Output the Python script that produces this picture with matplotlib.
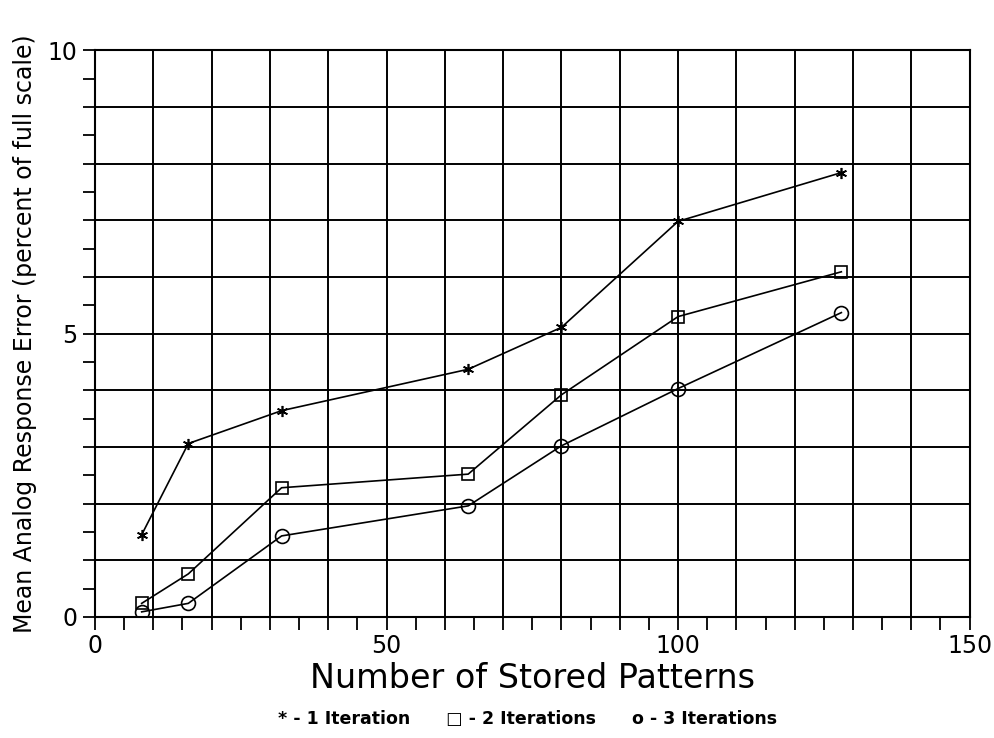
import matplotlib
matplotlib.use("Agg")
import matplotlib.pyplot as plt
from matplotlib.ticker import MultipleLocator, FuncFormatter

# Mean analog response error vs. number of stored patterns
patterns = [8, 16, 32, 64, 80, 100, 128]
err_1_iter = [1.45, 3.06, 3.64, 4.37, 5.11, 6.98, 7.84]
err_2_iter = [0.24, 0.76, 2.28, 2.52, 3.92, 5.30, 6.09]
err_3_iter = [0.09, 0.24, 1.43, 1.96, 3.02, 4.03, 5.37]

fig = plt.figure(figsize=(9.95, 7.38), dpi=100)
ax = fig.add_axes([0.0955, 0.164, 0.879, 0.768])

line_kw = dict(color="black", linewidth=1.2, markerfacecolor="none",
               markeredgecolor="black", markeredgewidth=1.2)
ax.plot(patterns, err_1_iter, marker=(6, 2, 0), markersize=8, **line_kw)
ax.plot(patterns, err_2_iter, marker="s", markersize=9, **line_kw)
ax.plot(patterns, err_3_iter, marker="o", markersize=10, **line_kw)

ax.set_xlim(0, 150)
ax.set_ylim(0, 10)

ax.xaxis.set_major_locator(MultipleLocator(10))
ax.xaxis.set_minor_locator(MultipleLocator(5))
ax.yaxis.set_major_locator(MultipleLocator(1))
ax.yaxis.set_minor_locator(MultipleLocator(0.5))
ax.xaxis.set_major_formatter(FuncFormatter(lambda v, p: f"{v:.0f}" if v % 50 == 0 else ""))
ax.yaxis.set_major_formatter(FuncFormatter(lambda v, p: f"{v:.0f}" if v % 5 == 0 else ""))

ax.tick_params(which="both", direction="out", length=9, width=1.3, colors="black")
ax.tick_params(axis="both", which="major", labelsize=17)
ax.grid(which="major", color="black", linewidth=1.4)
for s in ax.spines.values():
    s.set_linewidth(1.5)

ax.set_xlabel("Number of Stored Patterns", fontsize=24, labelpad=3)
ax.set_ylabel("Mean Analog Response Error (percent of full scale)", fontsize=17, labelpad=8)

fig.text(0.53, 0.014, "* - 1 Iteration      \u25a1 - 2 Iterations      o - 3 Iterations",
         ha="center", va="bottom", fontsize=12.5, fontweight="bold",
         family=["Liberation Sans Narrow", "DejaVu Sans"])

fig.savefig("out.png", dpi=100)
